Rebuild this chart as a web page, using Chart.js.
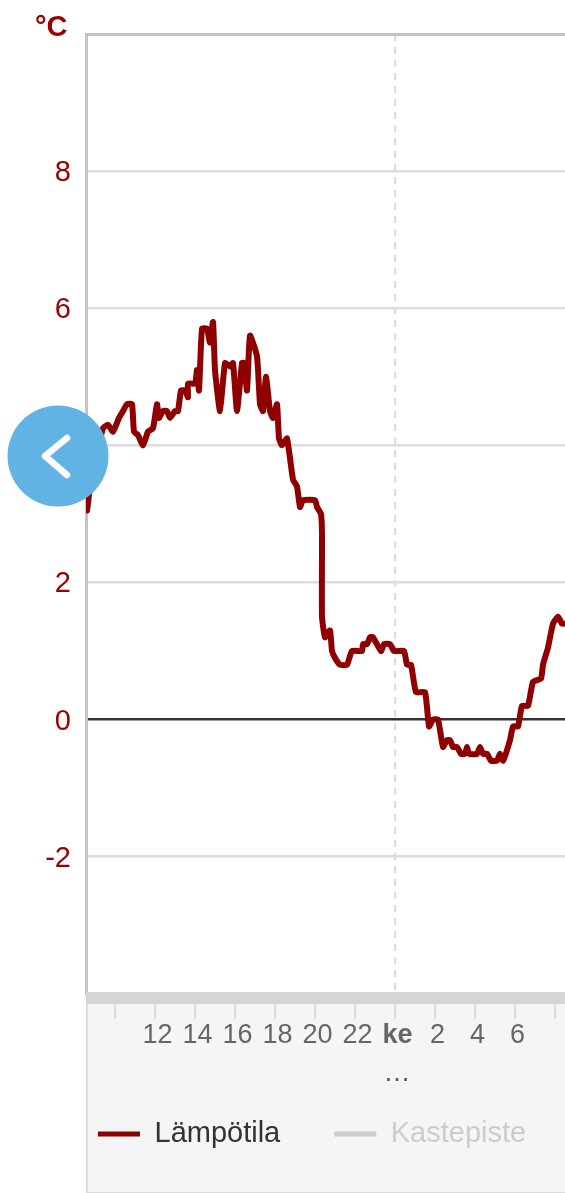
<!DOCTYPE html>
<html>
<head>
<meta charset="utf-8">
<style>
html,body{margin:0;padding:0;background:#fff;overflow:hidden}
#wrap{position:relative;width:565px;height:1193px;font-family:"Liberation Sans",Arial,sans-serif}
#panel{position:absolute;left:86px;top:1003px;width:479px;height:189px;background:#f5f5f5;border-left:2px solid #ddd;border-bottom:1px solid #ddd;box-sizing:content-box}
canvas{position:absolute;left:0;top:0}
#top{position:absolute;left:85px;top:33px;width:480px;height:3px;background:#c4c4c4}
#band{position:absolute;left:86px;top:992px;width:479px;height:12px;background:#d5d5d5}
#unit{position:absolute;left:35px;top:10px;font-size:29px;line-height:32px;font-weight:bold;color:#900}
#more{position:absolute;left:383px;top:1056px;width:28px;text-align:center;font-size:27px;line-height:32px;color:#555}
#nav{position:absolute;left:7px;top:405px}
</style>
</head>
<body>
<div id="wrap">
<div id="panel"></div>
<canvas id="c" width="565" height="1193"></canvas>
<div id="top"></div>
<div id="band"></div>
<div id="unit">°C</div>
<div id="more">…</div>
<svg id="nav" width="102" height="102" viewBox="0 0 102 102"><circle cx="51" cy="51" r="50.5" fill="#61b3e3"/><path d="M60 33 L38 51 L60 70" fill="none" stroke="#fff" stroke-width="6.5" stroke-linecap="round" stroke-linejoin="round"/></svg>
</div>
<script src="https://cdn.jsdelivr.net/npm/chart.js@4/dist/chart.umd.min.js"></script>
<script>
const hours = [-15.4,-15.35,-15.25,-15.0,-14.8,-14.6,-14.35,-14.1,-13.8,-13.6,-13.4,-13.15,-13.05,-12.85,-12.6,-12.35,-12.1,-11.9,-11.8,-11.6,-11.4,-11.25,-11.0,-10.85,-10.7,-10.5,-10.35,-10.35,-10.0,-9.9,-9.8,-9.65,-9.4,-9.25,-9.1,-9.0,-8.75,-8.5,-8.25,-8.1,-7.9,-7.65,-7.55,-7.4,-7.25,-6.9,-6.75,-6.6,-6.45,-6.25,-6.1,-5.9,-5.8,-5.65,-5.4,-5.1,-4.9,-4.75,-4.6,-4.0,-3.9,-3.7,-3.65,-3.65,-3.5,-3.25,-3.15,-3.0,-2.75,-2.4,-2.15,-1.65,-1.6,-1.4,-1.25,-1.1,-0.7,-0.55,-0.25,-0.05,0.45,0.6,0.8,1.05,1.5,1.7,1.9,2.15,2.4,2.6,2.75,2.9,3.1,3.3,3.5,3.6,3.7,4.1,4.25,4.4,4.6,4.8,5.1,5.25,5.4,5.75,5.9,6.15,6.35,6.65,6.9,7.3,7.4,7.65,7.9,8.15,8.35,8.5];
const temperature = [3.05,3.15,3.4,3.7,4.0,4.25,4.3,4.2,4.4,4.5,4.6,4.6,4.2,4.15,4.0,4.2,4.25,4.6,4.4,4.5,4.5,4.4,4.5,4.5,4.8,4.8,4.7,4.9,4.9,5.1,4.8,5.7,5.7,5.5,5.8,5.1,4.5,5.2,5.15,5.2,4.5,5.2,5.2,4.8,5.6,5.3,4.6,4.5,5.0,4.5,4.4,4.6,4.1,4.0,4.1,3.5,3.4,3.1,3.2,3.2,3.1,3.0,2.7,1.5,1.2,1.3,1.0,0.9,0.8,0.8,1.0,1.0,1.1,1.1,1.2,1.2,1.0,1.1,1.1,1.0,1.0,0.8,0.8,0.4,0.4,-0.1,0.0,0.0,-0.4,-0.3,-0.3,-0.4,-0.4,-0.5,-0.5,-0.4,-0.5,-0.5,-0.4,-0.5,-0.5,-0.6,-0.6,-0.5,-0.6,-0.3,-0.1,-0.1,0.2,0.2,0.55,0.6,0.8,1.05,1.4,1.5,1.4,1.4];
const dewPoint = [];
const xTickValues = [-14,-12,-10,-8,-6,-4,-2,0,2,4,6,8];
const xTickLabels = ["","12","14","16","18","20","22","ke","2","4","6",""];
const yHiddenTicks = [-4,10];
const seriesNames = ["Lämpötila","Kastepiste"];

const GRID="#dcdcdc";
const legendPlacer={id:"legendPlacer",afterLayout(chart){
  const l=chart.legend;l.left=44;l.right=760;l.top=1065.5;l.bottom=1193;
}};
new Chart(document.getElementById("c"),{
  type:"line",
  plugins:[legendPlacer],
  data:{datasets:[
    {label:seriesNames[0],data:hours.map((h,i)=>({x:h,y:temperature[i]})),borderColor:"#8f0000",backgroundColor:"#8f0000",borderWidth:6,pointRadius:0,tension:0.15,borderJoinStyle:"round",borderCapStyle:"round"},
    {label:seriesNames[1],data:dewPoint,hidden:true,borderColor:"#cccccc",backgroundColor:"#cccccc",borderWidth:6,pointRadius:0}
  ]},
  options:{
    responsive:false,animation:false,
    layout:{padding:{left:0,top:34,right:0,bottom:0}},
    plugins:{
      tooltip:{enabled:false},
      legend:{
        display:true,position:"bottom",align:"start",
        labels:{
          boxWidth:42,boxHeight:5,padding:54,
          font:{family:"Liberation Sans",size:29},
          generateLabels(chart){
            return chart.data.datasets.map((d,i)=>({
              text:d.label,fillStyle:d.borderColor,strokeStyle:d.borderColor,lineWidth:0,
              hidden:false,datasetIndex:i,fontColor:i===0?"#333333":"#cccccc"
            }));
          }
        }
      }
    },
    scales:{
      x:{
        type:"linear",min:-15.45,max:8.5,
        afterBuildTicks(s){s.ticks=xTickValues.map(v=>({value:v}));},
        afterFit(s){s.height=106.2;},
        grid:{
          color:c=>c.tick&&c.tick.value===0?"#dddddd":"rgba(0,0,0,0)",
          tickColor:"#dddddd",lineWidth:2.2,tickLength:25,tickWidth:2.2,drawOnChartArea:true
        },
        border:{display:false,dash:[7,6]},
        ticks:{
          autoSkip:false,maxRotation:0,minRotation:0,includeBounds:false,padding:1,labelOffset:2.5,
          color:"#666666",
          font:c=>({family:"Liberation Sans",size:27,weight:c.tick&&c.tick.value===0?"bold":"normal"}),
          callback:v=>{const i=xTickValues.indexOf(v);return i<0?"":xTickLabels[i];}
        }
      },
      y:{
        min:-4,max:10,
        afterFit(s){s.width=86;},
        grid:{
          color:c=>{const v=c.tick&&c.tick.value;return v===0?"#333333":(yHiddenTicks.includes(v)?"rgba(0,0,0,0)":GRID);},
          lineWidth:2.5,drawTicks:false
        },
        border:{display:true,color:"#c4c4c4",width:3},
        ticks:{
          stepSize:2,padding:15,labelOffset:2,color:"#990000",
          font:{family:"Liberation Sans",size:29},
          callback:v=>yHiddenTicks.includes(v)?"":String(v)
        }
      }
    }
  }
});
</script>
</body>
</html>
